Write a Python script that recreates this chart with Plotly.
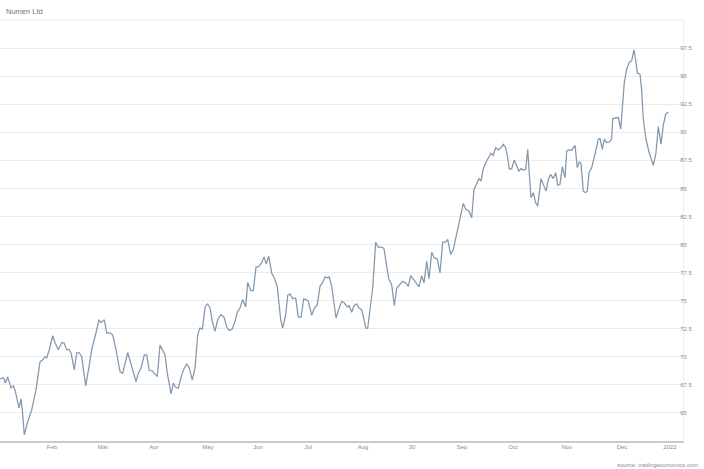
import plotly.graph_objects as go

# time position (axis units) and price values
t = [0, 3.3, 5.3, 7.7, 11, 13.3, 15, 17.3, 19, 21, 22.3, 24.3, 27.3, 31.7, 36, 40, 42.7, 45, 46.7, 49.3,
     52.7, 55, 58.3, 61.7, 64, 66.7, 69, 71, 74.3, 76.7, 79.3, 81.7, 85.7, 89, 91.7, 96, 99, 101, 104.3, 106.7,
     110, 112.7, 116, 120, 122.7, 127.7, 130.7, 133.3, 136, 138.3, 141, 144.3, 146.7, 149.3, 152.3, 155, 157.3, 160, 162.3, 165,
     167.3, 169.3, 171, 173.3, 175.7, 178.3, 181.7, 184.3, 186.7, 189.3, 192.3, 195, 197.7, 200, 202.3, 205.3, 207.7, 210, 212.3, 215,
     217.7, 221, 224, 226.7, 229.3, 232.3, 235, 237.3, 240, 242.7, 245.7, 247.7, 250.7, 253.3, 256, 259, 261.7, 264, 266.3, 268.7,
     271.7, 274.3, 277.3, 279.3, 280.7, 282.7, 285.7, 287.7, 290, 292.7, 295.7, 298.3, 301, 303.7, 306, 308.3, 311.7, 314.3, 317.3, 320,
     322.7, 325, 327.3, 329.3, 331.7, 334, 336, 338.3, 341.7, 344.3, 347.3, 349.3, 351.7, 354, 356.7, 359, 361.7, 364, 365.7, 367.7,
     370, 372.7, 375.7, 378.3, 381.7, 384, 386.7, 389, 391.7, 394.3, 396.7, 400, 402.7, 405.7, 408.3, 410.7, 413.3, 416, 419, 421.7,
     424, 426.7, 429, 431.7, 434.3, 437.3, 440, 442.7, 445.7, 447.7, 450.7, 453.3, 456, 458.3, 460.7, 463.3, 466, 469, 471.7, 474,
     476, 479, 481, 483.3, 486.7, 489, 491, 493.3, 495.7, 498.3, 501, 503.3, 505.7, 507.7, 509.3, 511.7, 514.3, 516.7, 519, 521,
     523.3, 525.7, 527.7, 529, 531, 533.3, 535.7, 537.7, 541, 543.3, 546, 548.3, 550.7, 553.3, 555.7, 557.7, 560, 562.3, 565, 566.7,
     568.3, 571.7, 575, 577.3, 579.3, 581, 583.3, 585.7, 587.3, 589, 591.7, 595, 598.3, 600, 602.3, 604.3, 606.7, 609.3, 611.7, 612.7,
     615.7, 618.3, 620.7, 622.7, 624.3, 626.7, 629.3, 631.7, 634, 636, 637.3, 640, 641.7, 643.3, 646, 649, 651.7, 653.3, 656, 658.3,
     661, 663.3, 665.7, 668.3]

price = [68.04, 68.13, 67.68, 68.21, 67.23, 67.41, 67.05, 66.16, 65.45, 66.25, 65.27, 63.04, 64.11, 65.27, 67.05, 69.55, 69.73, 70.0, 69.91, 70.63,
         71.88, 71.25, 70.63, 71.25, 71.25, 70.63, 70.63, 70.36, 68.84, 70.36, 70.36, 70.0, 67.41, 69.11, 70.63, 72.14, 73.30, 73.04, 73.30, 72.14,
         72.14, 71.96, 70.63, 68.69, 68.54, 70.38, 69.46, 68.84, 67.79, 68.54, 68.99, 70.18, 70.18, 68.78, 68.75, 68.46, 68.24, 71.04, 70.63, 70.18,
         68.54, 67.35, 66.70, 67.65, 67.29, 67.21, 68.39, 68.99, 69.38, 68.99, 67.95, 68.99, 71.96, 72.56, 72.47, 74.49, 74.71, 74.35, 73.15, 72.26,
         73.30, 73.75, 73.54, 72.65, 72.35, 72.47, 73.15, 73.96, 74.35, 75.09, 74.44, 76.63, 75.89, 75.89, 77.97, 78.06, 78.37, 78.90, 78.28, 78.96,
         77.47, 77.03, 76.22, 74.49, 73.30, 72.56, 73.75, 75.47, 75.60, 75.18, 75.24, 73.54, 73.54, 75.15, 75.09, 74.94, 73.69, 74.35, 74.64, 76.28,
         76.63, 77.12, 77.03, 77.12, 76.28, 74.79, 73.46, 74.13, 74.94, 74.79, 74.44, 74.55, 73.96, 74.55, 74.71, 74.35, 74.20, 73.30, 72.56, 72.56,
         74.49, 76.13, 80.21, 79.76, 79.76, 79.64, 78.06, 76.88, 76.43, 74.55, 76.13, 76.43, 76.72, 76.58, 76.28, 77.23, 76.88, 76.63, 76.22, 77.23,
         76.58, 78.51, 76.94, 79.31, 78.81, 78.72, 77.47, 80.21, 80.21, 80.45, 79.11, 79.55, 80.60, 81.63, 82.47, 83.66, 83.13, 82.97, 82.38, 84.91,
         85.27, 85.87, 85.65, 86.76, 87.44, 87.88, 88.13, 87.95, 88.63, 88.42, 88.63, 88.93, 88.63, 87.74, 86.70, 86.76, 87.53, 86.99, 86.54, 86.76,
         86.63, 86.70, 88.48, 86.70, 84.17, 84.62, 83.72, 83.42, 85.87, 85.36, 84.76, 85.80, 86.25, 85.87, 86.40, 85.27, 85.36, 86.94, 85.96, 88.33,
         88.42, 88.39, 88.84, 86.85, 87.35, 87.23, 84.76, 84.62, 84.76, 86.40, 86.85, 88.04, 89.38, 89.44, 88.48, 89.38, 89.08, 89.13, 89.38, 91.22,
         91.28, 91.31, 90.27, 92.95, 94.44, 95.63, 96.22, 96.37, 97.35, 96.22, 95.27, 95.18, 93.69, 91.16, 89.38, 88.24, 87.44, 87.05, 88.19, 90.51,
         88.93, 90.63, 91.61, 91.81]

x_tick_pos = [52, 103, 154, 208, 258, 308, 363, 412, 462, 513, 567, 622, 670]
x_tick_labels = ["Feb", "Mar", "Apr", "May", "Jun", "Jul", "Aug", "30", "Sep", "Oct", "Nov", "Dec", "2022"]
y_ticks = [65, 67.5, 70, 72.5, 75, 77.5, 80, 82.5, 85, 87.5, 90, 92.5, 95, 97.5]
y_tick_labels = ["65", "67.5", "70", "72.5", "75", "77.5", "80", "82.5", "85", "87.5", "90", "92.5", "95", "97.5"]

fig = go.Figure()
fig.add_trace(go.Scatter(
    x=t, y=price, mode="lines",
    line=dict(color="#8198ae", width=1.25),
    hoverinfo="skip", showlegend=False,
))

fig.update_layout(
    width=704, height=469,
    margin=dict(l=0, r=21, t=20, b=28),
    paper_bgcolor="white", plot_bgcolor="white",
    font=dict(family="Arial, Liberation Sans, sans-serif", size=6, color="#8c8c8c"),
    annotations=[
        dict(text="Numen Ltd", x=0.006, y=1.02, xref="paper", yref="paper",
             xanchor="left", yanchor="middle", showarrow=False,
             font=dict(size=7.5, color="#6b7582")),
        dict(text="source: tradingeconomics.com", x=1.025, y=-0.057, xref="paper", yref="paper",
             xanchor="right", yanchor="middle", showarrow=False,
             font=dict(size=6, color="#8c8c8c")),
    ],
    shapes=[
        dict(type="line", xref="paper", yref="paper", x0=0, x1=1, y0=1, y1=1,
             line=dict(color="#ececec", width=1)),
    ],
)
fig.update_xaxes(
    range=[0, 683], tickvals=x_tick_pos, ticktext=x_tick_labels,
    showgrid=False, zeroline=False, showline=True, linecolor="#c2ccd6", linewidth=2,
    ticks="", ticklabelstandoff=-1, tickfont=dict(size=6, color="#8c8c8c"), fixedrange=True,
)
fig.update_yaxes(
    range=[62.5, 100], side="right", tickvals=y_ticks, ticktext=y_tick_labels,
    showgrid=True, gridcolor="#ececec", gridwidth=1, zeroline=False,
    showline=True, linecolor="#ececec", linewidth=1, ticks="", ticklabelstandoff=-5,
    tickfont=dict(size=6, color="#8c8c8c"), fixedrange=True,
)

fig.write_html("out.html", config={"displayModeBar": False},
               post_script="document.body.style.margin='0';document.body.style.overflow='hidden';")
